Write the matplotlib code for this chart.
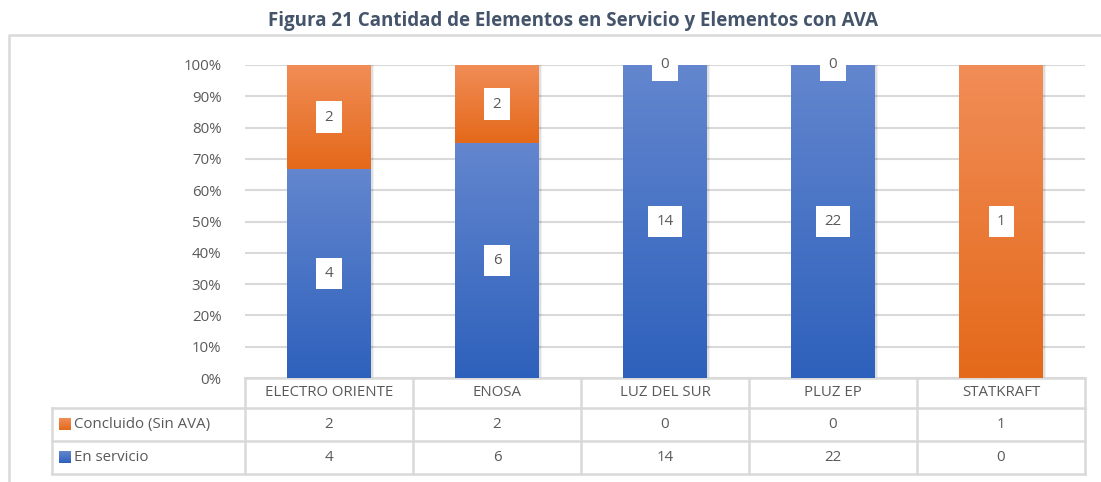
"""Figura 21: elementos en servicio vs concluidos (sin AVA), barras 100% apiladas."""
import matplotlib
matplotlib.use("Agg")
import matplotlib.pyplot as plt
import numpy as np
from matplotlib.colors import to_rgb
from matplotlib.lines import Line2D
from matplotlib.patches import Rectangle
from matplotlib.transforms import Bbox, BboxTransformTo, TransformedBbox, blended_transform_factory

plt.rcParams["font.family"] = ["Open Sans", "DejaVu Sans"]

categories = ["ELECTRO ORIENTE", "ENOSA", "LUZ DEL SUR", "PLUZ EP", "STATKRAFT"]
en_servicio = [4, 6, 14, 22, 0]
concluido = [2, 2, 0, 0, 1]
series_names = ["Concluido (Sin AVA)", "En servicio"]
title = "Figura 21 Cantidad de Elementos en Servicio y Elementos con AVA"

TXT = "#595959"
GRID = "#D9D9D9"
BLUE = ("#6386CE", "#2E61BC")     # top, bottom
ORANGE = ("#F18D57", "#E4691A")
FS = 10.8


def gradient(top, bottom, n=128):
    t = np.linspace(0, 1, n)[:, None]
    a, b = np.array(to_rgb(top)), np.array(to_rgb(bottom))
    return (a * (1 - t) + b * t)[:, None, :]


fig = plt.figure(figsize=(11.01, 4.82), dpi=100)
ax = fig.add_axes([245 / 1101, 1 - 378 / 482, 840 / 1101, 313 / 482])

x = np.arange(len(categories))
tot = np.array(en_servicio) + np.array(concluido)
p_serv = np.array(en_servicio) / tot
p_conc = np.array(concluido) / tot
width = 0.5

# soft-ish shadows to the right of the bars
for xi in x:
    for off, al in ((0.010, 0.08), (0.018, 0.05)):
        ax.add_patch(Rectangle((xi - width / 2 + off, 0), width, 1.0, facecolor="#000000",
                               alpha=al, lw=0, zorder=1.5))

segments = [(p_serv, np.zeros(len(x)), en_servicio, BLUE),
            (p_conc, p_serv, concluido, ORANGE)]
for vals, base, raw, cols in segments:
    bars = ax.bar(x, vals, width, bottom=base, color=cols[1], lw=0, zorder=2)
    for b in bars:
        if b.get_height() <= 0:
            continue
        im = ax.imshow(gradient(*cols), extent=(b.get_x(), b.get_x() + b.get_width(),
                                                 b.get_y(), b.get_y() + b.get_height()),
                       aspect="auto", origin="upper", zorder=2.1)
        im.set_clip_path(b)
    for xi, v, bs, r in zip(x, vals, base, raw):
        if r == 0 and bs == 0:
            continue
        ax.text(xi, bs + v / 2, str(r), ha="center", va="center", fontsize=FS, color=TXT,
                zorder=5, bbox=dict(boxstyle="square,pad=0.55", fc="white", ec="none"))

ax.set_yticks(np.linspace(0, 1, 11))
ax.set_yticklabels([f"{int(round(v * 100))}%" for v in np.linspace(0, 1, 11)])
ax.tick_params(axis="y", length=0, pad=17, labelsize=FS, labelcolor=TXT)
ax.set_xticks([])
ax.grid(axis="y", color=GRID, lw=1.5, zorder=0)
ax.set_axisbelow(True)
for s in ax.spines.values():
    s.set_visible(False)

# data table below the plot
tr = blended_transform_factory(ax.transData, ax.transAxes)
tra = ax.transAxes
H = 313
y_hdr, y_r1, y_r2 = -30 / H, -63 / H, -96 / H
x_lab = (52 - 245) / 840
lkw = dict(color=GRID, lw=1.8, clip_on=False, solid_capstyle="projecting")
ax.add_line(Line2D([-0.5, len(categories) - 0.5], [0, 0], transform=tr, **lkw))
for yy in (y_hdr, y_r1, y_r2):
    ax.add_line(Line2D([x_lab, 1.0], [yy, yy], transform=tra, **lkw))
for xb in np.arange(len(categories) + 1) - 0.5:
    ax.add_line(Line2D([xb, xb], [0, y_r2], transform=tr, **lkw))
ax.add_line(Line2D([x_lab, x_lab], [y_hdr, y_r2], transform=tra, **lkw))

for xi, c, a, b in zip(x, categories, concluido, en_servicio):
    ax.text(xi, y_hdr / 2, c, transform=tr, ha="center", va="center", fontsize=FS, color=TXT)
    ax.text(xi, (y_hdr + y_r1) / 2, str(a), transform=tr, ha="center", va="center", fontsize=FS, color=TXT)
    ax.text(xi, (y_r1 + y_r2) / 2, str(b), transform=tr, ha="center", va="center", fontsize=FS, color=TXT)

for (name, cols), (y0, y1) in zip(zip(series_names, [ORANGE, BLUE]), [(y_hdr, y_r1), (y_r1, y_r2)]):
    ym = (y0 + y1) / 2
    kx, kw, kh = (59 - 245) / 840, 11 / 840, 11 / H
    key = ax.imshow(gradient(*cols), extent=(0, 1, 0, 1), aspect="auto", zorder=3)
    key.set_transform(BboxTransformTo(TransformedBbox(Bbox.from_bounds(kx, ym - kh / 2, kw, kh), tra)))
    key.set_clip_on(False)
    ax.text((74 - 245) / 840, ym, name, transform=tra, ha="left", va="center", fontsize=FS, color=TXT)

ax.set_xlim(-0.5, len(categories) - 0.5)
ax.set_ylim(0, 1)

# outer chart frame (only left and top edges visible)
fig.add_artist(Line2D([9 / 1101, 9 / 1101, 1.0], [0, 1 - 35 / 482, 1 - 35 / 482],
                      transform=fig.transFigure, color=GRID, lw=1.8))
fig.text(573 / 1101, 1 - 21 / 482, title, ha="center", va="center", fontsize=13.5,
         fontweight="bold", color="#44546A")

fig.savefig("out.png", dpi=100)
